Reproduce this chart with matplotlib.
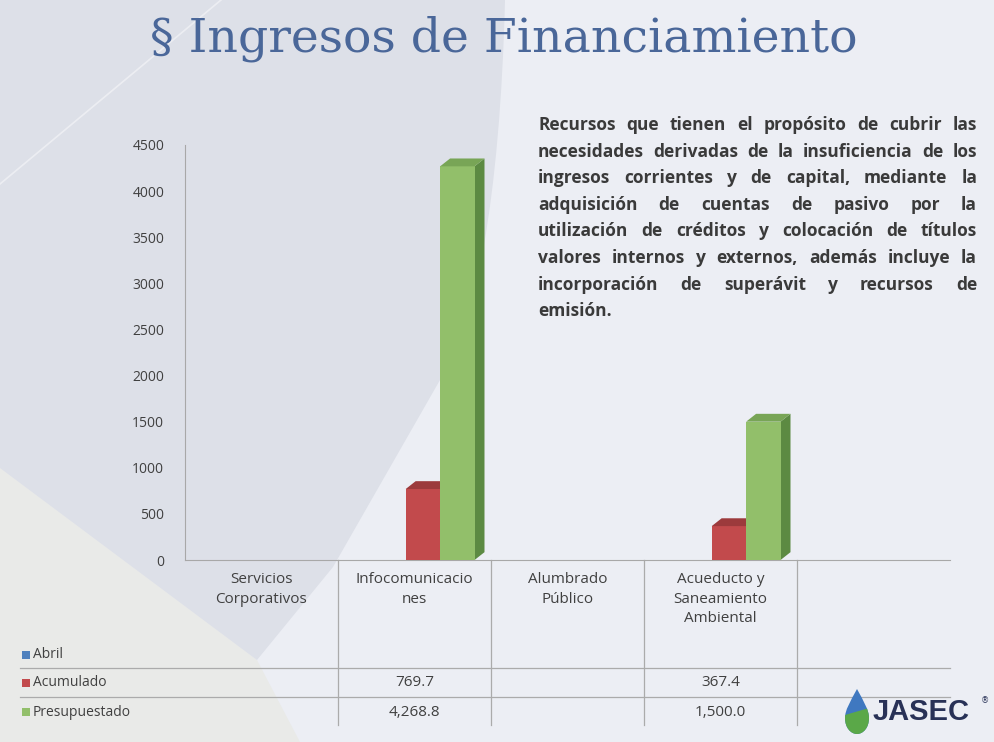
import matplotlib.pyplot as plt
from matplotlib.patches import Polygon, PathPatch, Rectangle
from matplotlib.path import Path

# Datos del gráfico
categorias = ['Servicios\nCorporativos', 'Infocomunicacio\nnes', 'Alumbrado\nPúblico',
              'Acueducto y\nSaneamiento\nAmbiental', '']
series = ['Abril', 'Acumulado', 'Presupuestado']
abril = [None, None, None, None, None]
acumulado = [None, 769.7, None, 367.4, None]
presupuestado = [None, 4268.8, None, 1500.0, None]
etiquetas_acum = ['', '769.7', '', '367.4', '']
etiquetas_presup = ['', '4,268.8', '', '1,500.0', '']
yticks = [0, 500, 1000, 1500, 2000, 2500, 3000, 3500, 4000, 4500]

texto = ['Recursos que tienen el propósito de cubrir las',
         'necesidades derivadas de la insuficiencia de los',
         'ingresos corrientes y de capital, mediante la',
         'adquisición de cuentas de pasivo por la',
         'utilización de créditos y colocación de títulos',
         'valores internos y externos, además incluye la',
         'incorporación de superávit y recursos de',
         'emisión.']

# colores (frente, arriba, lado)
colores = {'Abril': ('#4f81bd', '#3d6a9e', '#2f5583'),
           'Acumulado': ('#c24a4c', '#9c3a3c', '#8a3234'),
           'Presupuestado': ('#92bf6a', '#78a556', '#5c8a42')}

W, H = 995, 742
fig = plt.figure(figsize=(W / 100, H / 100), dpi=100)
fig.patch.set_facecolor('#eceef4')

# Eje de fondo en pixeles
bg = fig.add_axes([0, 0, 1, 1], zorder=0)
bg.set_xlim(0, W)
bg.set_ylim(H, 0)
bg.axis('off')

# Fondo decorativo
bg.add_patch(Polygon([(0, 455), (0, H), (300, H), (257, 660)], closed=True,
                     facecolor='#e9eae8', edgecolor='none', zorder=0))
verts = [(0, 0), (505, 0), (500, 200), (475, 330), (440, 380), (333, 567),
         (257, 660), (0, 468), (0, 0)]
codes = [Path.MOVETO, Path.LINETO, Path.CURVE4, Path.CURVE4, Path.CURVE4,
         Path.LINETO, Path.LINETO, Path.LINETO, Path.CLOSEPOLY]
bg.add_patch(PathPatch(Path(verts, codes), facecolor='#dde0e8', edgecolor='none', zorder=0))
bg.plot([0, 221], [184, 0], color='white', lw=1.2, alpha=0.45, zorder=1)

# Titulo
bg.text(504, 51, '§ Ingresos de Financiamiento', ha='center', va='baseline',
        fontsize=34, family='DejaVu Serif', color='#4a6799', zorder=5)

# Ejes del gráfico
x_izq, x_der, y_cero, y_max = 185, 950, 560, 145
ax = fig.add_axes([x_izq / W, (H - y_cero) / H, (x_der - x_izq) / W, (y_cero - y_max) / H], zorder=2)
ax.patch.set_alpha(0)
ax.set_xlim(0, len(categorias))
ax.set_ylim(0, 4500)
ax.set_yticks(yticks)
ax.set_yticklabels([str(v) for v in yticks], fontsize=10, family='Open Sans', color='#404040')
ax.tick_params(axis='y', length=0, pad=15)
ax.set_xticks([])
for s in ['top', 'right']:
    ax.spines[s].set_visible(False)
ax.spines['left'].set_color('#a8a8a8')
ax.spines['bottom'].set_color('#a8a8a8')

# Barras 3D
ancho = 0.225
desplaz = {'Abril': -0.17, 'Acumulado': 0.055, 'Presupuestado': 0.28}
dx, dy = 0.065, 85
for nombre, valores in zip(series, [abril, acumulado, presupuestado]):
    frente, arriba, lado = colores[nombre]
    for i, v in enumerate(valores):
        if v is None:
            continue
        xc = i + 0.5 + desplaz[nombre]
        x0, x1 = xc - ancho / 2, xc + ancho / 2
        ax.bar(xc, v, width=ancho, color=frente, edgecolor='none', zorder=3)
        ax.add_patch(Polygon([(x0, v), (x1, v), (x1 + dx, v + dy), (x0 + dx, v + dy)],
                             closed=True, facecolor=arriba, edgecolor='none', zorder=3))
        ax.add_patch(Polygon([(x1, 0), (x1, v), (x1 + dx, v + dy), (x1 + dx, dy)],
                             closed=True, facecolor=lado, edgecolor='none', zorder=2))

# Tabla de datos
col_w = (x_der - x_izq) / len(categorias)
linea = '#ababab'
for k in range(1, len(categorias)):
    xp = x_izq + k * col_w
    bg.plot([xp, xp], [y_cero, 725], color=linea, lw=0.9, zorder=2)
for yp in [668, 697]:
    bg.plot([20, x_der], [yp, yp], color=linea, lw=0.9, zorder=2)

fuente = dict(family='Open Sans', fontsize=11, color='#404040', zorder=5)
for i, cat in enumerate(categorias):
    xc = x_izq + (i + 0.5) * col_w
    bg.text(xc, 572, cat, ha='center', va='top', linespacing=1.42, **fuente)
    bg.text(xc, 683, etiquetas_acum[i], ha='center', va='center', **fuente)
    bg.text(xc, 712, etiquetas_presup[i], ha='center', va='center', **fuente)

for nombre, yp in zip(series, [655, 683, 712]):
    bg.add_patch(Rectangle((22, yp - 4), 8, 8, facecolor=colores[nombre][0],
                           edgecolor='none', zorder=5))
    bg.text(33, yp, nombre, ha='left', va='center', family='Open Sans', fontsize=10,
            color='#404040', zorder=5)

# Texto justificado
r = fig.canvas.get_renderer()
x0p, x1p = 538, 977
estilo = dict(family='Open Sans', fontweight='bold', color='#3a3a3a', zorder=5)
tam = 12.5

def medir(p, tam):
    t = bg.text(0, 0, p, fontsize=tam, **estilo)
    w = t.get_window_extent(r).width
    t.remove()
    return w

# reducir si la linea mas larga no cabe
esp = medir('a a', tam) - 2 * medir('a', tam)
mayor = max(sum(medir(p, tam) for p in ln.split()) + esp * (len(ln.split()) - 1) for ln in texto)
if mayor > (x1p - x0p):
    tam = tam * (x1p - x0p) / mayor

for n, ln in enumerate(texto):
    yb = 130 + n * 26.6
    palabras = ln.split()
    if n == len(texto) - 1:
        bg.text(x0p, yb, ln, ha='left', va='baseline', fontsize=tam, **estilo)
        continue
    w = [medir(p, tam) for p in palabras]
    hueco = ((x1p - x0p) - sum(w)) / (len(palabras) - 1)
    xp = x0p
    for p, wp in zip(palabras, w):
        bg.text(xp, yb, p, ha='left', va='baseline', fontsize=tam, **estilo)
        xp += wp + hueco

# Logo JASEC
gota = Path([(857, 689), (850, 702), (845, 710), (845, 718), (845, 728), (851, 734), (857, 734),
             (863, 734), (869, 728), (869, 718), (869, 710), (864, 702), (857, 689)],
            [Path.MOVETO, Path.CURVE4, Path.CURVE4, Path.CURVE4, Path.CURVE4, Path.CURVE4,
             Path.CURVE4, Path.CURVE4, Path.CURVE4, Path.CURVE4, Path.CURVE4, Path.CURVE4,
             Path.CURVE4])
bg.add_patch(PathPatch(gota, facecolor='#3f78c0', edgecolor='none', zorder=5))
verde = Polygon([(845, 715), (869, 708), (869, 736), (845, 736)], closed=True,
                facecolor='#5aa848', edgecolor='none', zorder=6)
bg.add_patch(verde)
verde.set_clip_path(PathPatch(gota, transform=bg.transData))
bg.text(873, 712, 'JASEC', ha='left', va='center', fontsize=21, fontweight='bold',
        family='Liberation Sans', color='#283156', zorder=5)
bg.text(981, 701, '®', ha='left', va='center', fontsize=6, color='#283156', zorder=5)

fig.savefig('out.png', dpi=100, facecolor=fig.get_facecolor())
